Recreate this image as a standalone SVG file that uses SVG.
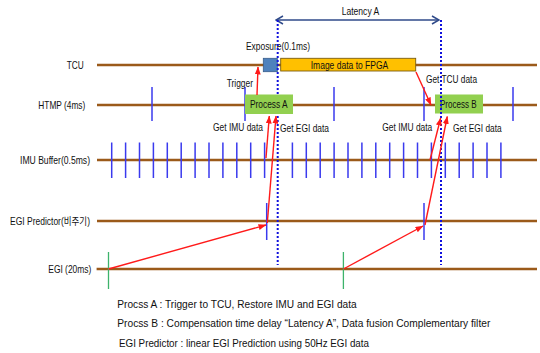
<svg xmlns="http://www.w3.org/2000/svg" width="540" height="353" viewBox="0 0 540 353">
<defs>
<marker id="redHead" markerWidth="8" markerHeight="6" refX="7.5" refY="3" orient="auto" markerUnits="userSpaceOnUse"><path d="M0,0 L8,3 L0,6 Z" fill="#FF1A1A"/></marker>
<marker id="latHead" markerWidth="9" markerHeight="10" refX="8" refY="5" orient="auto-start-reverse" markerUnits="userSpaceOnUse"><path d="M1,1 L8,5 L1,9" fill="none" stroke="#2F4A8A" stroke-width="1.5"/></marker>
</defs>
<style>
text{font-family:"Liberation Sans","Noto Sans CJK KR",sans-serif;fill:#111}
.lbl{font-size:10.5px}
.note{font-size:11.5px}
.lane{stroke:#9B5A1A;stroke-width:2.5}
.tick{stroke:#3A3AEE;stroke-width:1.5}
.gtick{stroke:#3DB36B;stroke-width:1.3}
.red{stroke:#FF1A1A;stroke-width:1.4;fill:none;marker-end:url(#redHead)}
.dot{stroke:#1010DD;stroke-width:2;stroke-dasharray:2 2;fill:none}
.proc{fill:#92D050}
</style>
<rect width="540" height="353" fill="#FFFFFF"/>

<g id="lane-tcu">
<line class="lane" x1="97" y1="65" x2="537" y2="65"/>
<text class="lbl" x="66.7" y="68.8" textLength="17" lengthAdjust="spacingAndGlyphs">TCU</text>
</g>
<g id="lane-htmp">
<line class="lane" x1="97" y1="105" x2="537" y2="105"/>
<text class="lbl" x="38.3" y="108.8" textLength="47" lengthAdjust="spacingAndGlyphs">HTMP (4ms)</text>
<line class="tick" x1="152" y1="87" x2="152" y2="121"/>
<line class="tick" x1="245" y1="87" x2="245" y2="121"/>
<line class="tick" x1="334" y1="87" x2="334" y2="121"/>
<line class="tick" x1="424" y1="87" x2="424" y2="121"/>
<line class="tick" x1="513" y1="87" x2="513" y2="121"/>
</g>
<g id="lane-imu">
<line class="lane" x1="97" y1="160" x2="537" y2="160"/>
<text class="lbl" x="20" y="163.8" textLength="70" lengthAdjust="spacingAndGlyphs">IMU Buffer(0.5ms)</text>
<path class="tick" fill="none" d="M111.7,142.5V178M125.6,142.5V178M139.5,142.5V178M153.4,142.5V178M167.3,142.5V178M181.2,142.5V178M195.1,142.5V178M209,142.5V178M222.9,142.5V178M236.8,142.5V178M250.7,142.5V178M264.6,142.5V178M292.4,142.5V178M306.3,142.5V178M320.2,142.5V178M334.1,142.5V178M348,142.5V178M361.9,142.5V178M375.8,142.5V178M389.7,142.5V178M403.6,142.5V178M417.5,142.5V178M431.4,142.5V178M445.3,142.5V178M459.2,142.5V178M473.1,142.5V178M487,142.5V178M500.9,142.5V178"/>
</g>
<g id="lane-egi-predictor">
<line class="lane" x1="97" y1="221" x2="537" y2="221"/>
<text class="lbl" x="10" y="224.8" textLength="80" lengthAdjust="spacingAndGlyphs">EGI Predictor(비주기)</text>
<line class="tick" x1="266.7" y1="203" x2="266.7" y2="240"/>
<line class="tick" x1="424" y1="203" x2="424" y2="240"/>
</g>
<g id="lane-egi">
<line class="lane" x1="96.6" y1="269" x2="537" y2="269"/>
<text class="lbl" x="48.3" y="272.8" textLength="43" lengthAdjust="spacingAndGlyphs">EGI (20ms)</text>
<line class="gtick" x1="108.5" y1="252" x2="108.5" y2="289"/>
<line class="gtick" x1="343.4" y1="252" x2="343.4" y2="289"/>
</g>

<g id="exposure">
<rect x="263.3" y="58.3" width="14" height="13.4" fill="#4F81BD" stroke="#385D8A" stroke-width="0.8"/>
<text class="lbl" x="246" y="49.8" textLength="64" lengthAdjust="spacingAndGlyphs">Exposure(0.1ms)</text>
</g>
<g id="image-data">
<rect x="280.7" y="58.3" width="135" height="12.7" fill="#FFC000" stroke="#7A5C10" stroke-width="0.9"/>
<text class="lbl" x="310.7" y="68.5" textLength="77.6" lengthAdjust="spacingAndGlyphs">Image data to FPGA</text>
</g>
<g id="process-b">
<rect class="proc" x="435" y="94.5" width="48" height="19"/>
<text class="lbl" x="440" y="108.3" textLength="36.7" lengthAdjust="spacingAndGlyphs">Process B</text>
</g>

<g id="latency-a">
<line x1="276" y1="20" x2="439" y2="20" stroke="#2F4A8A" stroke-width="1.5" marker-start="url(#latHead)" marker-end="url(#latHead)"/>
<text class="lbl" x="341.7" y="14.5" textLength="37.6" lengthAdjust="spacingAndGlyphs">Latency A</text>
</g>
<g id="time-markers">
<line class="dot" x1="277.7" y1="20" x2="277.7" y2="265"/>
<line class="dot" x1="441" y1="20" x2="441" y2="265"/>
</g>

<g id="process-a">
<rect class="proc" x="245" y="94.5" width="48" height="19.5"/>
<text class="lbl" x="250" y="108.3" textLength="37.7" lengthAdjust="spacingAndGlyphs">Process A</text>
</g>

<g id="connectors">
<path class="red" d="M257,95 L258,67"/>
<path class="red" d="M266,158 L269.3,116"/>
<path class="red" d="M267.3,223 L276,116"/>
<path class="red" d="M430,160 L440.7,118"/>
<path class="red" d="M425,225 L447.3,116.5"/>
<path class="red" d="M416,72 L431,105"/>
<path class="red" d="M108.5,269 L266,225"/>
<path class="red" d="M343.4,269 L423,226"/>
</g>
<g id="connector-labels">
<text class="lbl" x="226.7" y="86.8" textLength="26.3" lengthAdjust="spacingAndGlyphs">Trigger</text>
<text class="lbl" x="213" y="131" textLength="50" lengthAdjust="spacingAndGlyphs">Get IMU data</text>
<text class="lbl" x="280" y="132" textLength="49" lengthAdjust="spacingAndGlyphs">Get EGI data</text>
<text class="lbl" x="426" y="83" textLength="51" lengthAdjust="spacingAndGlyphs">Get TCU data</text>
<text class="lbl" x="382.3" y="131" textLength="50" lengthAdjust="spacingAndGlyphs">Get IMU data</text>
<text class="lbl" x="453" y="132" textLength="48.7" lengthAdjust="spacingAndGlyphs">Get EGI data</text>
</g>

<g id="notes">
<text class="note" x="117.3" y="308" textLength="239.4" lengthAdjust="spacingAndGlyphs">Procss A : Trigger to TCU, Restore IMU and  EGI data</text>
<text class="note" x="117.3" y="327" textLength="373" lengthAdjust="spacingAndGlyphs">Procss B : Compensation time delay “Latency A”, Data fusion Complementary filter</text>
<text class="note" x="119" y="347" textLength="250" lengthAdjust="spacingAndGlyphs">EGI Predictor : linear EGI Prediction using 50Hz EGI data</text>
</g>
</svg>
